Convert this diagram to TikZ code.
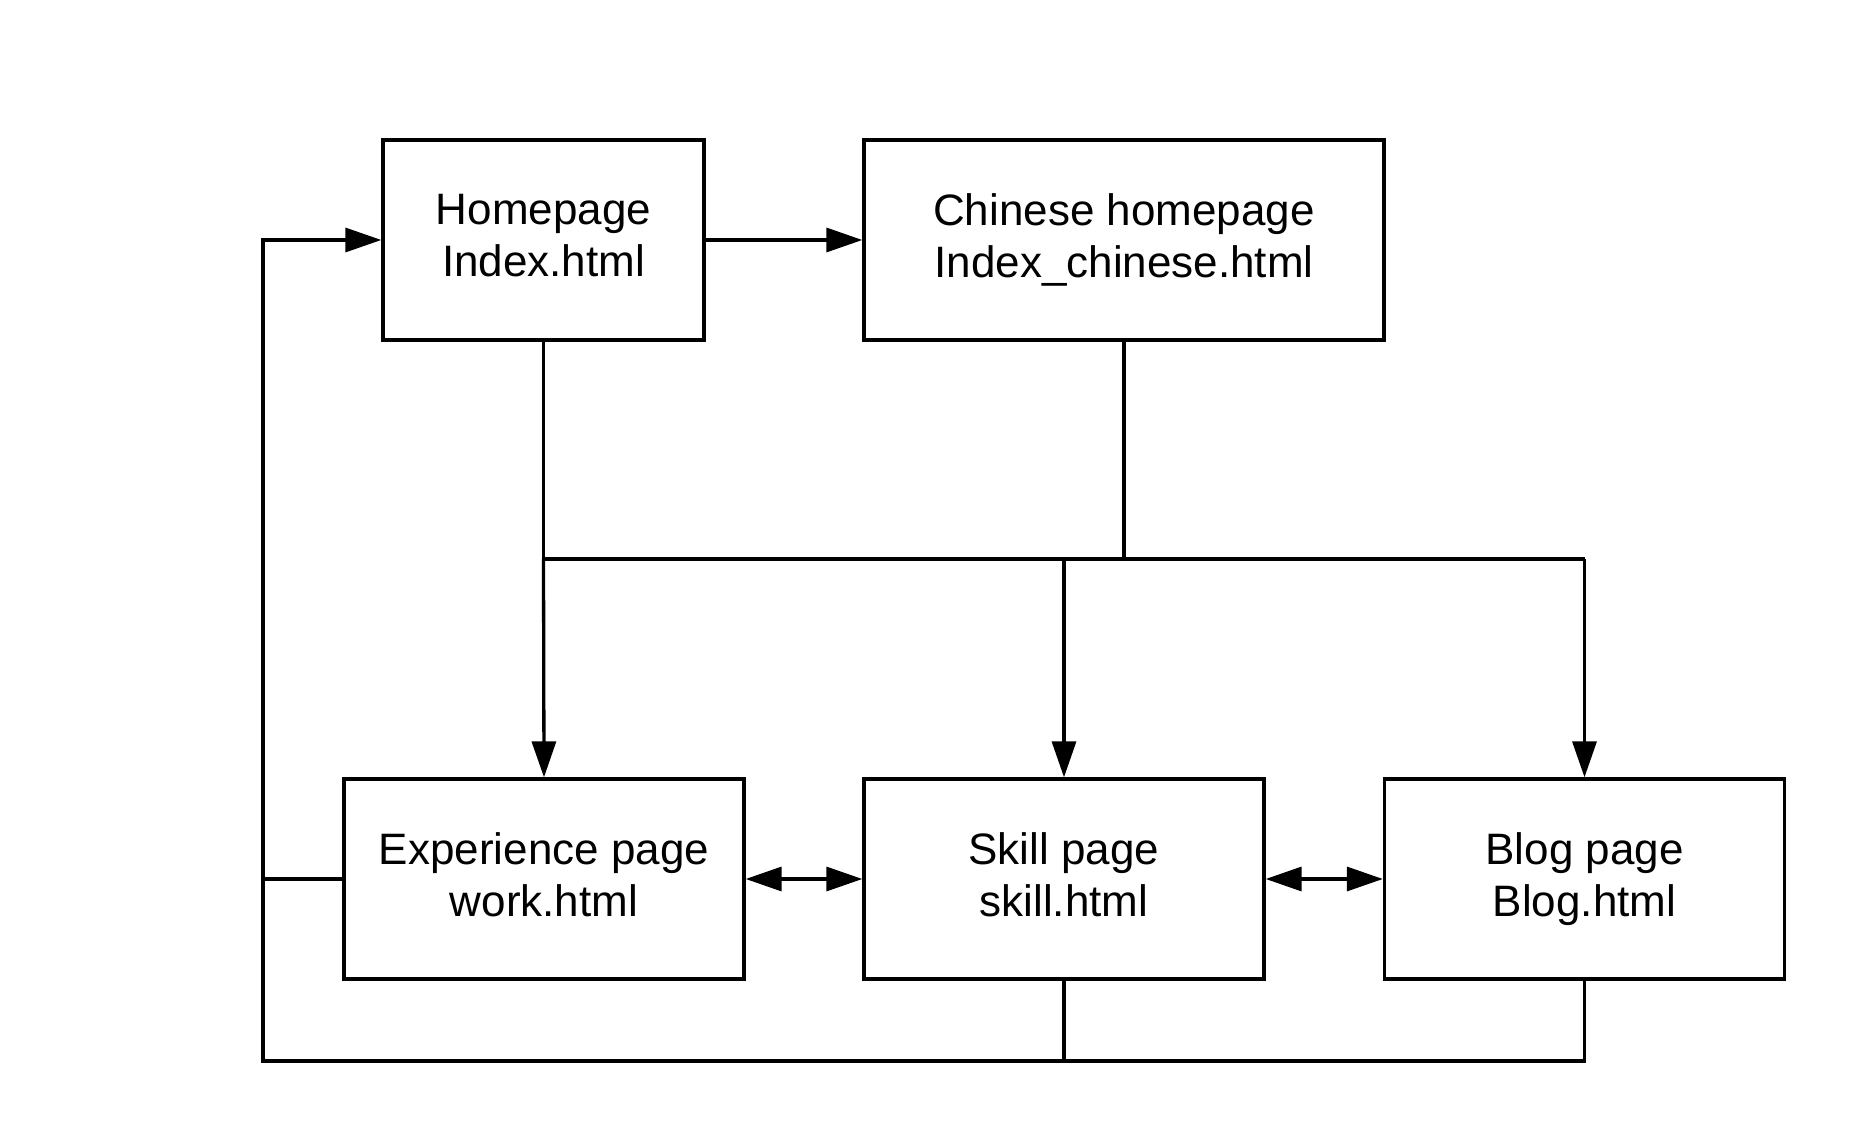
\documentclass[tikz,border=0pt]{standalone}
\usepackage{fontspec}
\setmainfont{Liberation Sans}
\usetikzlibrary{arrows.meta}
% two-line label with equal height and depth on every page box
\newcommand{\twolines}[2]{\vphantom{Hp}#1\\\vphantom{Hp}#2}
\begin{document}
\begin{tikzpicture}[x=0.5pt,y=-0.5pt,
  page/.style={draw,line width=1.65pt,inner sep=0pt,align=center,
    font=\fontsize{22pt}{26pt}\selectfont,minimum height=100pt},
  link/.style={line width=1.65pt},
  tip/.style={-{Triangle[length=18pt,width=12pt]}},
  both/.style={{Triangle[length=18pt,width=12pt]}-{Triangle[length=18pt,width=12pt]}}]
\useasboundingbox[fill=white] (0,0) rectangle (1860,1138);
% pages
\node[page,minimum width=160.5pt] (home) at (543.5,240) {\twolines{Homepage}{Index.html}};
\node[page,minimum width=260pt] (chn) at (1124,240) {\twolines{Chinese homepage}{Index\_chinese.html}};
\node[page,minimum width=200pt] (exp) at (544,879) {\twolines{Experience page}{work.html}};
\node[page,minimum width=200pt] (skill) at (1064,879) {\twolines{Skill page}{skill.html}};
\node[page,minimum width=200pt] (blog) at (1584.5,879) {\twolines{Blog page}{Blog.html}};
% junction points
\coordinate (jh) at (543.5,559);
\coordinate (jc) at (1124,559);
\coordinate (js) at (1064,559);
\coordinate (jb) at (1584.5,559);
\coordinate (lt) at (263,240);
\coordinate (lm) at (263,879);
\coordinate (lb) at (263,1061);
\coordinate (sb) at (1064,1061);
\coordinate (bb) at (1584.5,1061);
% top row
\draw[link,tip] (home.east) -- (chn.west);
% fan-out to the lower pages
\draw[link] (home.south) -- (jh);
\draw[link] (chn.south) -- (jc);
\draw[link] (jh) -- (jb);
\draw[link,tip] (jh) -- (exp.north);
\draw[link,tip] (js) -- (skill.north);
\draw[link,tip] (jb) -- (blog.north);
% links between lower pages
\draw[link,both] (exp.east) -- (skill.west);
\draw[link,both] (skill.east) -- (blog.west);
% return to homepage
\draw[link,tip] (exp.west) -- (lm) -- (lt) -- (home.west);
\draw[link] (skill.south) -- (sb);
\draw[link] (blog.south) -- (bb) -- (lb) -- (lm);
\end{tikzpicture}
\end{document}
